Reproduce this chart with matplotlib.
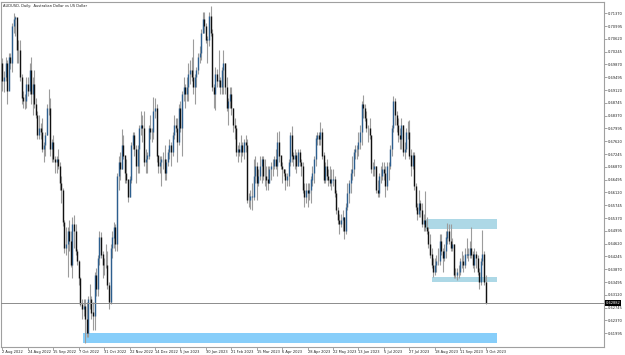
import matplotlib
matplotlib.use("Agg")
import matplotlib.pyplot as plt
import numpy as np
import pandas as pd
from matplotlib.patches import Rectangle

title = "AUDUSD, Daily:  Australian Dollar vs US Dollar"

# daily AUDUSD bars, prices in pips (x 1e-4); open = previous close
first_open = 6990
closes = [
    # Aug 2022
    6940, 6950, 6990, 6910, 7010, 6990, 7100, 7120, 7125, 7030, 7030, 6950, 6890, 6880, 6880, 6930, 6910, 6970, 6900, 6930, 6870, 6840,
    # Sep 2022
    6780, 6800, 6790, 6740, 6750, 6780, 6860, 6860, 6740, 6760, 6710, 6700, 6710, 6690, 6640, 6620, 6525, 6450, 6460, 6500, 6470, 6400,
    # Oct 2022
    6520, 6500, 6440, 6410, 6360, 6285, 6270, 6280, 6240, 6200, 6300, 6300, 6260, 6250, 6370, 6330, 6420, 6480, 6430, 6400, 6400,
    # Nov 2022
    6400, 6340, 6290, 6450, 6480, 6510, 6460, 6660, 6700, 6680, 6750, 6720, 6670, 6650, 6600, 6650, 6750, 6780, 6740, 6690, 6740, 6800,
    # Dec 2022
    6810, 6800, 6700, 6710, 6720, 6800, 6790, 6790, 6850, 6860, 6720, 6690, 6700, 6710, 6710, 6670, 6700, 6730, 6750, 6730, 6780, 6810,
    # Jan 2023
    6800, 6760, 6860, 6800, 6900, 6920, 6900, 6920, 6960, 6970, 6950, 6920, 6950, 6970, 7010, 7020, 7080, 7120, 7100, 7060, 7060,
    # Feb 2023
    7130, 7080, 6920, 6900, 6960, 6940, 6940, 6920, 6970, 6990, 6920, 6860, 6880, 6900, 6860, 6810, 6800, 6730, 6740, 6730,
    # Mar 2023
    6750, 6730, 6760, 6750, 6590, 6590, 6600, 6600, 6660, 6690, 6640, 6660, 6690, 6710, 6660, 6660, 6650, 6640, 6680, 6690, 6690, 6710, 6690,
    # Apr 2023
    6760, 6720, 6690, 6680, 6670, 6650, 6660, 6700, 6780, 6720, 6710, 6720, 6690, 6730, 6700, 6690, 6620, 6600, 6620, 6610,
    # May 2023
    6620, 6650, 6670, 6710, 6770, 6780, 6770, 6790, 6720, 6650, 6690, 6660, 6650, 6640, 6650, 6650, 6610, 6560, 6530, 6520, 6530, 6540, 6500,
    # Jun 2023
    6570, 6610, 6640, 6670, 6680, 6730, 6740, 6740, 6760, 6790, 6870, 6860, 6830, 6800, 6800, 6780, 6680, 6680, 6690, 6620, 6610, 6660,
    # Jul 2023
    6660, 6680, 6670, 6630, 6690, 6690, 6740, 6800, 6880, 6840, 6810, 6780, 6770, 6810, 6730, 6740, 6790, 6790, 6720, 6690, 6720,
    # Aug 2023
    6630, 6570, 6550, 6580, 6560, 6520, 6530, 6510, 6500, 6460, 6430, 6400, 6380, 6400, 6410, 6410, 6470, 6440, 6420, 6440, 6480, 6500, 6470,
    # Sep 2023
    6450, 6460, 6370, 6370, 6380, 6380, 6410, 6410, 6400, 6430, 6430, 6430, 6450, 6430, 6400, 6430, 6420, 6380, 6350, 6410, 6430,
    # Oct 2023
    6350, 6288.2,
]
highs = [
    7005, 6968, 7010, 7000, 7020, 7020, 7110, 7137, 7130, 7110, 7060, 7060, 6960, 6910, 6900, 6950, 6950, 6990, 7010, 6950, 6970, 6890,
    6850, 6840, 6815, 6830, 6760, 6790, 6870, 6916, 6890, 6770, 6780, 6720, 6720, 6740, 6700, 6660, 6625, 6530, 6510, 6510, 6530, 6500,
    6540, 6547, 6520, 6445, 6415, 6365, 6300, 6300, 6300, 6290, 6310, 6345, 6310, 6290, 6380, 6390, 6430, 6500, 6495, 6440, 6420,
    6460, 6440, 6350, 6460, 6500, 6525, 6520, 6670, 6720, 6730, 6797, 6780, 6720, 6710, 6650, 6660, 6760, 6790, 6790, 6750, 6750, 6810,
    6850, 6840, 6850, 6740, 6730, 6810, 6840, 6800, 6893, 6890, 6870, 6720, 6720, 6720, 6730, 6750, 6710, 6740, 6770, 6760, 6790, 6840,
    6830, 6830, 6870, 6880, 6910, 6950, 6930, 6950, 6990, 7000, 7010, 7063, 6960, 6980, 7020, 7040, 7090, 7140, 7142, 7110, 7070,
    7140, 7157, 7090, 6930, 6980, 6975, 7030, 6950, 6980, 7030, 6990, 6950, 6890, 6920, 6920, 6860, 6830, 6810, 6750, 6760,
    6780, 6760, 6770, 6780, 6770, 6610, 6620, 6640, 6710, 6720, 6700, 6680, 6720, 6720, 6720, 6710, 6690, 6690, 6690, 6700, 6710, 6720, 6740,
    6790, 6793, 6720, 6700, 6680, 6680, 6670, 6710, 6790, 6806, 6730, 6740, 6730, 6740, 6740, 6710, 6700, 6640, 6640, 6640,
    6640, 6660, 6690, 6720, 6780, 6790, 6790, 6818, 6800, 6730, 6700, 6710, 6680, 6690, 6680, 6680, 6660, 6620, 6570, 6550, 6550, 6560, 6540,
    6580, 6640, 6650, 6680, 6720, 6740, 6750, 6750, 6790, 6810, 6880, 6899, 6870, 6850, 6810, 6830, 6780, 6700, 6710, 6690, 6650, 6670,
    6690, 6700, 6700, 6690, 6700, 6700, 6750, 6810, 6895, 6890, 6850, 6830, 6800, 6830, 6810, 6760, 6800, 6820, 6824, 6740, 6730,
    6730, 6640, 6580, 6620, 6590, 6580, 6550, 6615, 6540, 6510, 6490, 6450, 6420, 6420, 6430, 6450, 6490, 6490, 6450, 6460, 6500, 6522, 6520,
    6520, 6480, 6460, 6390, 6390, 6400, 6420, 6440, 6430, 6450, 6480, 6450, 6470, 6511, 6440, 6450, 6440, 6430, 6390, 6420, 6501,
    6440, 6370,
]
lows = [
    6910, 6905, 6940, 6870, 6915, 6975, 6965, 7080, 7070, 6990, 6990, 6940, 6870, 6860, 6857, 6860, 6895, 6900, 6870, 6840, 6860, 6830,
    6770, 6770, 6770, 6730, 6700, 6720, 6780, 6840, 6720, 6700, 6700, 6670, 6670, 6680, 6620, 6580, 6515, 6435, 6430, 6363, 6440, 6395,
    6360, 6450, 6430, 6400, 6340, 6280, 6240, 6250, 6170, 6190, 6190, 6270, 6240, 6210, 6210, 6310, 6310, 6400, 6420, 6360, 6370,
    6390, 6330, 6272, 6285, 6420, 6450, 6440, 6440, 6620, 6650, 6680, 6710, 6640, 6640, 6585, 6600, 6640, 6740, 6720, 6640, 6670, 6670,
    6780, 6760, 6690, 6670, 6670, 6710, 6770, 6760, 6770, 6830, 6700, 6670, 6670, 6630, 6680, 6650, 6650, 6690, 6710, 6690, 6720, 6770,
    6790, 6700, 6750, 6790, 6720, 6880, 6860, 6880, 6880, 6930, 6940, 6900, 6870, 6920, 6960, 6990, 7000, 7080, 7080, 7050, 6990,
    7040, 7070, 6910, 6860, 6855, 6920, 6920, 6900, 6900, 6900, 6900, 6850, 6810, 6860, 6840, 6790, 6770, 6720, 6700, 6720,
    6700, 6720, 6710, 6730, 6580, 6570, 6565, 6560, 6590, 6640, 6590, 6630, 6650, 6640, 6650, 6630, 6620, 6620, 6640, 6650, 6660, 6680, 6680,
    6660, 6700, 6680, 6640, 6660, 6620, 6630, 6630, 6690, 6700, 6690, 6680, 6670, 6690, 6690, 6660, 6610, 6570, 6580, 6570,
    6590, 6580, 6630, 6640, 6690, 6750, 6750, 6750, 6710, 6640, 6640, 6650, 6630, 6630, 6620, 6630, 6600, 6550, 6520, 6490, 6510, 6500, 6475,
    6490, 6560, 6580, 6610, 6650, 6660, 6710, 6710, 6720, 6740, 6750, 6830, 6820, 6790, 6760, 6770, 6670, 6660, 6660, 6610, 6600, 6600,
    6640, 6650, 6650, 6600, 6620, 6650, 6680, 6720, 6790, 6810, 6790, 6760, 6740, 6740, 6720, 6710, 6730, 6770, 6710, 6660, 6680,
    6620, 6560, 6530, 6540, 6540, 6510, 6500, 6500, 6490, 6450, 6420, 6390, 6364, 6370, 6380, 6400, 6400, 6430, 6380, 6410, 6420, 6460, 6460,
    6440, 6440, 6360, 6360, 6357, 6360, 6370, 6390, 6380, 6390, 6420, 6410, 6420, 6420, 6390, 6380, 6390, 6370, 6330, 6340, 6400,
    6340, 6285,
]

dates = pd.bdate_range("2022-08-02", "2023-10-03").drop(pd.Timestamp("2023-01-16"))

tick_labels = [
    "2 Aug 2022", "24 Aug 2022", "15 Sep 2022", "7 Oct 2022", "31 Oct 2022",
    "22 Nov 2022", "14 Dec 2022", "5 Jan 2023", "30 Jan 2023", "21 Feb 2023",
    "15 Mar 2023", "6 Apr 2023", "28 Apr 2023", "22 May 2023", "13 Jun 2023",
    "5 Jul 2023", "27 Jul 2023", "18 Aug 2023", "11 Sep 2023", "3 Oct 2023",
]

# supply / demand zones: start date, low, high, colour (they run 7 bars past the last bar)
zone_starts = ["2023-08-11", "2023-08-17", "2022-10-12"]
zone_lows = [0.65041, 0.63497, 0.61719]
zone_highs = [0.65352, 0.63644, 0.61994]
zone_colors = ["#add8e6", "#add8e6", "#87cefa"]
zone_extra_bars = 7

c = np.array(closes) / 1e4
h = np.array(highs) / 1e4
l = np.array(lows) / 1e4
o = np.concatenate([[first_open / 1e4], c[:-1]])
x = np.arange(len(c))

fig = plt.figure(figsize=(6.25, 3.55), dpi=100)
ax = fig.add_axes([1 / 625, 8 / 355, 603 / 625, 345 / 355])
fs = 2.6

for start, lo, hi, col in zip(zone_starts, zone_lows, zone_highs, zone_colors):
    x0 = dates.get_loc(pd.Timestamp(start)) - 0.5
    ax.add_patch(Rectangle((x0, lo), len(c) - 1 + zone_extra_bars - x0, hi - lo,
                           facecolor=col, edgecolor="none", zorder=1))

bull = c >= o
ax.vlines(x, l, h, color="#9c9c9c", lw=0.8, zorder=2)
ax.vlines(x[bull], o[bull], c[bull] + 0.00004, color="#2d5f8f", lw=1.0, zorder=3)
ax.vlines(x[~bull], c[~bull], o[~bull] + 0.00004, color="#111111", lw=1.0, zorder=3)

# bid line at the last close
ax.axhline(c[-1], color="#8c8c8c", lw=0.7, zorder=4)

ax.set_xlim(-0.94, 378.5)
ax.set_ylim(0.61593, 0.71701)

tick_pos = [dates.get_loc(pd.to_datetime(t, format="%d %b %Y")) for t in tick_labels]
ax.set_xticks(tick_pos)
ax.set_xticklabels(tick_labels, fontsize=fs, ha="left")
ax.yaxis.tick_right()
yt = np.arange(0.61995, 0.7140, 0.00375)
ax.set_yticks(yt)
ax.set_yticklabels([f"{v:.5f}" for v in yt], fontsize=fs)
ax.tick_params(axis="both", length=2, width=0.5, color="#808080", pad=1, labelcolor="#222222")
ax.tick_params(axis="x", pad=0.5)

for s in ax.spines.values():
    s.set_color("#a0a0a0")
    s.set_linewidth(0.8)

ax.text(1.003, c[-1], f"{c[-1]:.5f}", transform=ax.get_yaxis_transform(), ha="left", va="center",
        fontsize=fs, color="white", zorder=6,
        bbox=dict(facecolor="black", edgecolor="none", pad=0.4))
fig.text(3 / 625, 1 - 4 / 355, title, fontsize=fs, ha="left", va="top", color="#222222")

fig.savefig("out.png", dpi=100)
